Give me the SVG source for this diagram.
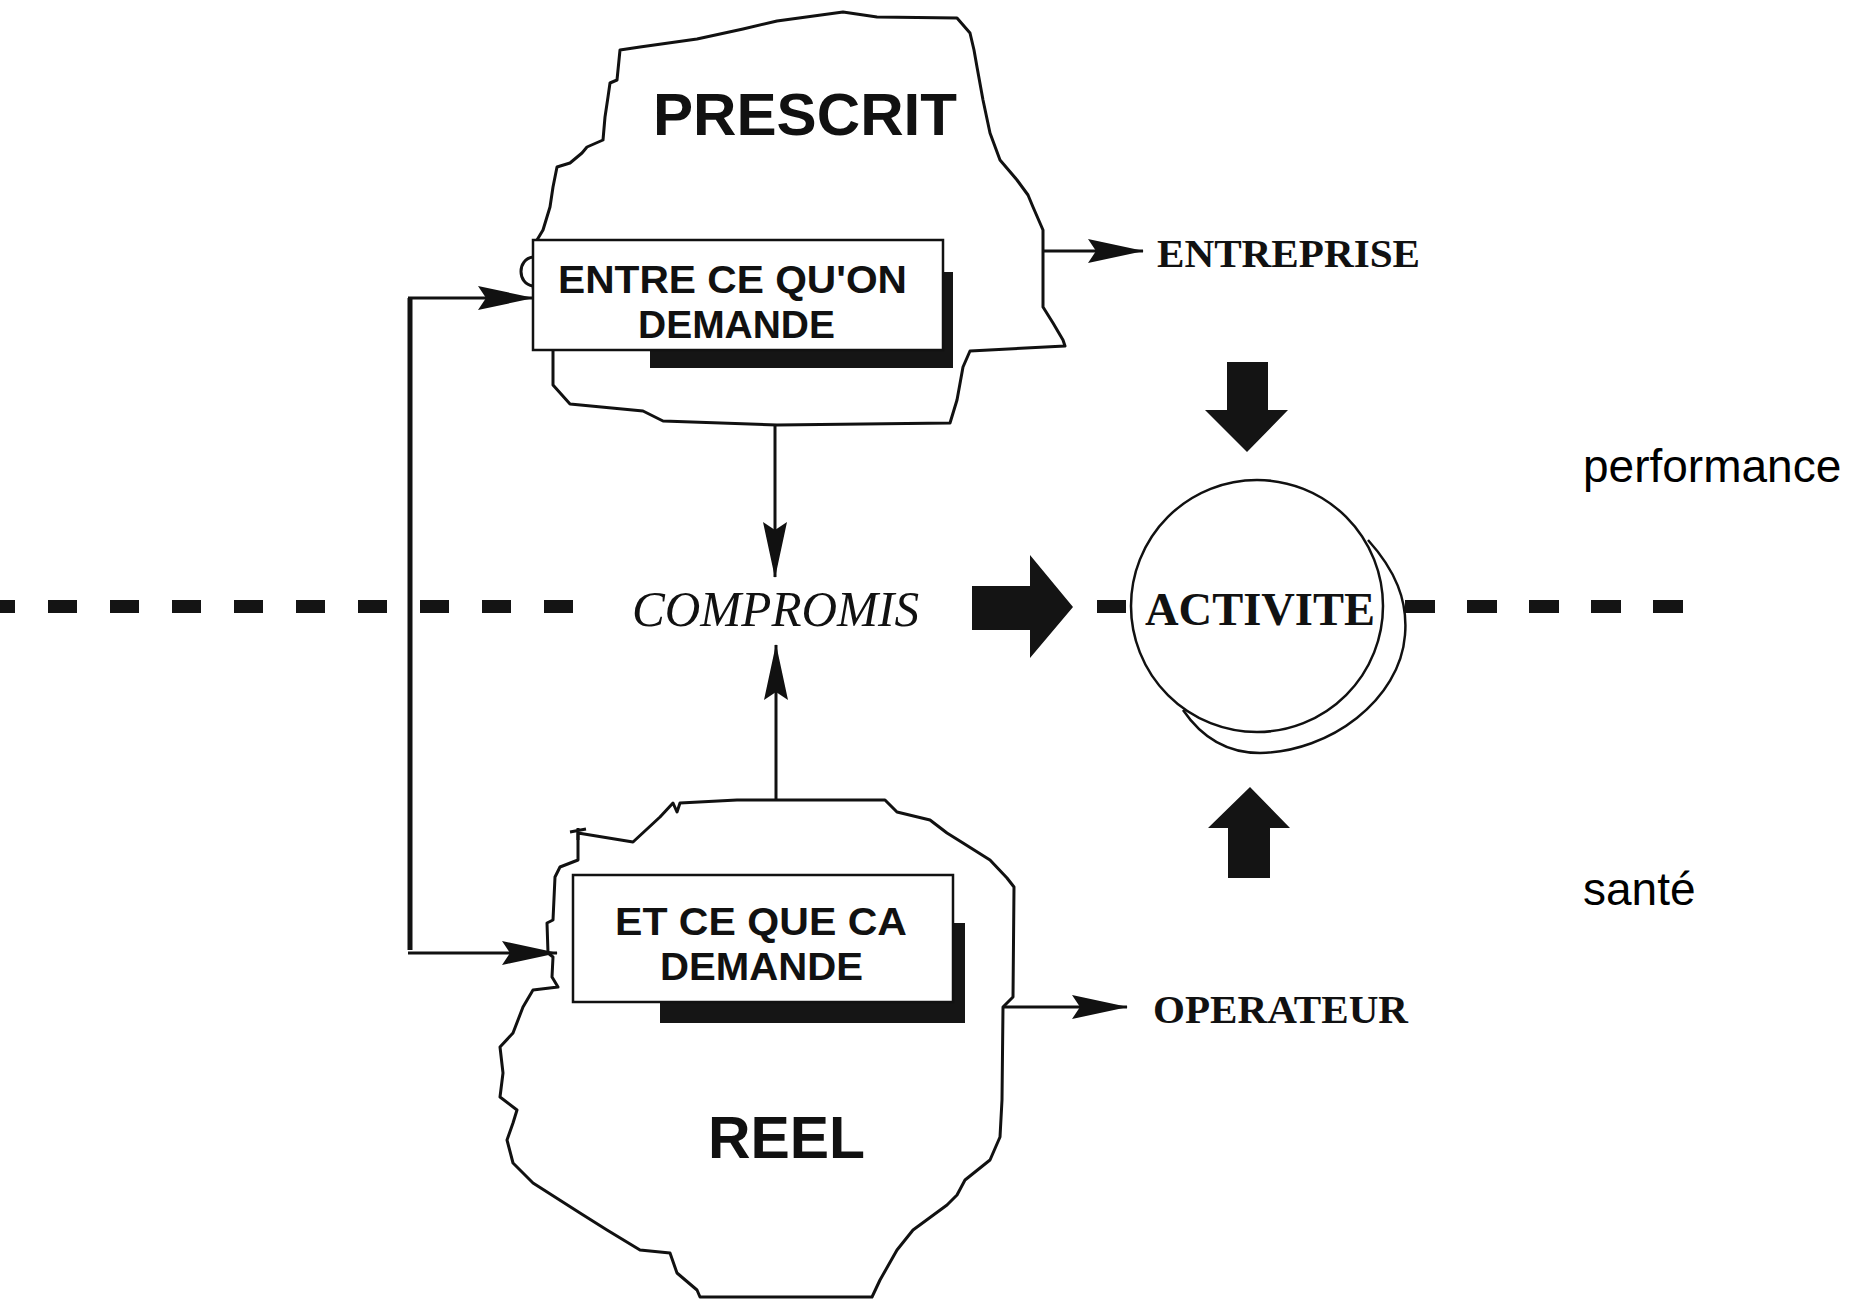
<svg xmlns="http://www.w3.org/2000/svg" width="1859" height="1302" viewBox="0 0 1859 1302">
<style>
.blob{fill:#fff;stroke:#111;stroke-width:3;stroke-linejoin:round}
.box{fill:#fff;stroke:#111;stroke-width:2.5}
.shadow{fill:#151515}
.line{fill:none;stroke:#111;stroke-width:3}
.vline{fill:none;stroke:#111;stroke-width:5}
.block{fill:#141414}
.dash{fill:#141414}
.ring{fill:none;stroke:#111;stroke-width:2.5}
.sans{font-family:"Liberation Sans",Arial,sans-serif;fill:#111}
.serif{font-family:"Liberation Serif","Times New Roman",serif;fill:#111}
.big{font-size:60px;font-weight:bold}
.boxt{font-size:38px;font-weight:bold}
.lab{font-size:40px;font-weight:bold}
.side{font-size:46px;fill:#000}
</style>
<defs>
<marker id="ah" markerUnits="userSpaceOnUse" markerWidth="56" markerHeight="28" viewBox="0 0 56 28" refX="55" refY="14" orient="auto">
<path d="M0,2 L56,14 L0,26 L8,14 Z" fill="#111"/>
</marker>
</defs>
<rect width="1859" height="1302" fill="#fff"/>

<g id="dashes">
<rect class="dash" x="-14" y="600" width="29" height="13"/>
<rect class="dash" x="48" y="600" width="29" height="13"/>
<rect class="dash" x="110" y="600" width="29" height="13"/>
<rect class="dash" x="172" y="600" width="29" height="13"/>
<rect class="dash" x="234" y="600" width="29" height="13"/>
<rect class="dash" x="296" y="600" width="29" height="13"/>
<rect class="dash" x="358" y="600" width="29" height="13"/>
<rect class="dash" x="420" y="600" width="29" height="13"/>
<rect class="dash" x="482" y="600" width="29" height="13"/>
<rect class="dash" x="544" y="600" width="29" height="13"/>
<rect class="dash" x="1097" y="600" width="29" height="13"/>
<rect class="dash" x="1405" y="600" width="30" height="13"/>
<rect class="dash" x="1467" y="600" width="30" height="13"/>
<rect class="dash" x="1529" y="600" width="30" height="13"/>
<rect class="dash" x="1591" y="600" width="30" height="13"/>
<rect class="dash" x="1653" y="600" width="30" height="13"/>
</g>

<g id="prescrit">
<path class="blob" d="M620,50 L640,47 L697,39 L743,29 L777,21 L843,12 L877,17 L957,18 L970,33 L974,50 L977,67 L983,100 L990,133 L1000,160 L1017,180 L1028,195 L1033,207 L1043,230 L1043,307 L1053,323 L1063,340 L1065,346 L970,351 L963,367 L957,400 L950,423 L777,425 L663,421 L643,411 L570,404 L553,385 L553,350 L535,300 L533,286 C517,284 517,259 533,257 L537,240 L543,230 L550,207 L553,187 L557,167 L570,163 L582,153 L587,147 L603,140 L605,117 L608,97 L610,83 L617,80 Z"/>
<text class="sans big" x="653" y="135" textLength="304" lengthAdjust="spacingAndGlyphs">PRESCRIT</text>
</g>

<g id="box-entre">
<rect class="shadow" x="650" y="350" width="303" height="18"/>
<rect class="shadow" x="943" y="272" width="10" height="96"/>
<rect class="box" x="533" y="240" width="410" height="110"/>
<text class="sans boxt" x="558" y="293" textLength="349" lengthAdjust="spacingAndGlyphs">ENTRE CE QU'ON</text>
<text class="sans boxt" x="638" y="338" textLength="197" lengthAdjust="spacingAndGlyphs">DEMANDE</text>
</g>

<g id="reel">
<path class="blob" d="M578,833 L633,842 L660,817 L673,803 L677,812 L680,803 L737,800 L885,800 L897,812 L930,820 L947,833 L963,843 L990,860 L1007,878 L1014,887 L1013,997 L1003,1007 L1002,1100 L1000,1137 L990,1160 L965,1180 L957,1195 L947,1205 L913,1230 L897,1250 L880,1280 L872,1297 L700,1297 L697,1290 L677,1273 L670,1253 L640,1250 L607,1230 L580,1213 L533,1183 L513,1163 L507,1140 L513,1123 L517,1110 L500,1097 L503,1073 L500,1047 L513,1033 L523,1007 L533,990 L558,987 L552,977 L553,957 L548,953 L547,923 L553,920 L555,877 L560,867 L578,860 Z"/>
<path class="line" d="M570,832 L586,829 M578,828 L578,840" stroke-width="2"/>
<text class="sans big" x="708" y="1158" font-size="59" textLength="157" lengthAdjust="spacingAndGlyphs">REEL</text>
</g>

<g id="box-et">
<rect class="shadow" x="660" y="1002" width="305" height="21"/>
<rect class="shadow" x="953" y="923" width="12" height="100"/>
<rect class="box" x="573" y="875" width="380" height="127"/>
<text class="sans boxt" x="615" y="935" textLength="292" lengthAdjust="spacingAndGlyphs">ET CE QUE CA</text>
<text class="sans boxt" x="660" y="980" textLength="203" lengthAdjust="spacingAndGlyphs">DEMANDE</text>
</g>

<g id="compromis">
<text class="serif" x="632" y="626" font-size="50" font-style="italic" textLength="287" lengthAdjust="spacingAndGlyphs">COMPROMIS</text>
</g>

<g id="activite">
<ellipse class="ring" cx="1257" cy="606" rx="126" ry="126"/>
<path class="ring" d="M1368,540 C1395,570 1408,600 1405,635 C1400,700 1330,752 1260,753 C1225,753 1200,735 1183,710"/>
<text class="serif" x="1145" y="625" font-size="46" font-weight="bold" textLength="230" lengthAdjust="spacingAndGlyphs">ACTIVITE</text>
</g>

<g id="entreprise">
<text class="serif lab" x="1157" y="267" textLength="263" lengthAdjust="spacingAndGlyphs">ENTREPRISE</text>
</g>

<g id="operateur">
<text class="serif lab" x="1153" y="1023" font-size="41" textLength="255" lengthAdjust="spacingAndGlyphs">OPERATEUR</text>
</g>

<g id="performance">
<text class="sans side" x="1583" y="482">performance</text>
</g>

<g id="sante">
<text class="sans side" x="1583" y="905">santé</text>
</g>

<g id="connectors">
<path class="vline" d="M410,298 L410,950"/>
<path class="line" d="M408,298 L533,298" marker-end="url(#ah)"/>
<path class="line" d="M408,953 L557,953" marker-end="url(#ah)"/>
<path class="line" d="M775,425 L775,577" marker-end="url(#ah)"/>
<path class="line" d="M776,800 L776,645" marker-end="url(#ah)"/>
<path class="line" d="M1043,251 L1143,251" marker-end="url(#ah)"/>
<path class="line" d="M1003,1007 L1127,1007" marker-end="url(#ah)"/>
<polygon class="block" points="972,586 1030,586 1030,555 1073,607 1030,658 1030,630 972,630"/>
<polygon class="block" points="1227,362 1268,362 1268,410 1288,410 1247,452 1205,410 1227,410"/>
<polygon class="block" points="1228,878 1270,878 1270,828 1290,828 1250,787 1208,828 1228,828"/>
</g>
</svg>
